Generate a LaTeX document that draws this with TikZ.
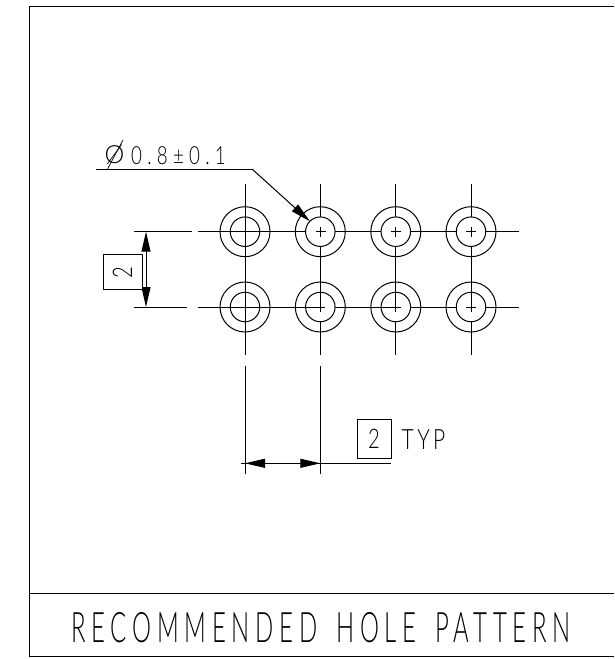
\documentclass[tikz,border=0pt]{standalone}
\usepackage{fontspec}
\newfontfamily\cadfont[LetterSpace=24]{Lato Light}
\newfontfamily\dimfont[LetterSpace=16]{Lato Light}
\newfontfamily\diafont[LetterSpace=28]{Lato Light}
\usetikzlibrary{arrows.meta}
\tikzset{
  cadline/.style={line width=1pt},
  hole/.style={circle,draw,line width=1pt,inner sep=0pt,outer sep=0pt},
  dimarrow/.style={line width=1pt,{Triangle[length=20pt,width=9pt]}-{Triangle[length=20pt,width=9pt]}},
  dimbox/.style={draw,line width=1pt,inner sep=0pt,outer sep=0pt},
  dimtext/.style={inner sep=0pt,xscale=0.75,transform shape}
}
\begin{document}
\begin{tikzpicture}[x=1pt,y=-1pt]
    \useasboundingbox (0,0) rectangle (614,659);

    % frame
    \coordinate (ftr) at (614,6.5);
    \coordinate (ftl) at (29.5,6.5);
    \coordinate (fbl) at (29.5,656.5);
    \coordinate (fbr) at (614,656.5);
    \coordinate (dl) at (29.5,593.5);
    \coordinate (dr) at (614,593.5);
    \draw[line width=1.1pt] (ftr) -- (ftl) -- (fbl) -- (fbr);
    \draw[line width=1.1pt] (dl) -- (dr);
    \node[inner sep=0pt,xscale=0.57,transform shape] (title) at (321,628) {\fontsize{42}{42}\cadfont RECOMMENDED\hspace{33pt}HOLE\hspace{33pt}PATTERN};

    % holes
    \foreach \i/\x in {1/245,2/320.3,3/395.8,4/471} {
        \node[hole,minimum size=50pt] (a\i) at (\x,231.7) {};
        \node[hole,minimum size=29.5pt] (ai\i) at (\x,231.7) {};
        \node[hole,minimum size=50pt] (b\i) at (\x,307) {};
        \node[hole,minimum size=29.5pt] (bi\i) at (\x,307) {};
    }

    % center lines
    \foreach \xa/\xb in {198/305.5,315.5/325.5,335/381,391/401,411/456.5,466/476,486/519}
        \draw[cadline] (\xa,231.7) -- (\xb,231.7);
    \foreach \xa/\xb in {198/325.3,335/401,411/456.5,466/476,486/519}
        \draw[cadline] (\xa,307) -- (\xb,307);
    \draw[cadline] (245,184) -- (245,355);
    \foreach \x in {320.3,395.8,471} {
        \draw[cadline] (\x,184) -- (\x,217);
        \draw[cadline] (\x,227) -- (\x,237);
        \draw[cadline] (\x,247) -- (\x,312);
        \draw[cadline] (\x,322) -- (\x,355);
    }

    % left dimension
    \draw[cadline] (134,231.7) -- (191.5,231.7);
    \draw[cadline] (134,307) -- (186.5,307);
    \coordinate (vt) at (146,231.7);
    \coordinate (vb) at (146,307);
    \draw[dimarrow] (vt) -- (vb);
    \node[dimbox,minimum width=39pt,minimum height=35pt,fill=white] (vbox) at (123,271.7) {};
    \node[inner sep=0pt,rotate=90,xscale=0.75,transform shape] (vtext) at (122.5,273) {\fontsize{27}{27}\dimfont 2};

    % bottom dimension
    \coordinate (hl) at (245,463.3);
    \coordinate (hr) at (320.3,463.3);
    \draw[cadline] (245,366) -- (245,474);
    \draw[cadline] (320.3,366) -- (320.3,474);
    \draw[cadline] (241,463.3) -- (391,463.3);
    \draw[dimarrow] (hl) -- (hr);
    \node[dimbox,minimum width=34pt,minimum height=39pt] (hbox) at (374,438.8) {};
    \node[dimtext] (htext) at (hbox) {\fontsize{27}{27}\dimfont 2};
    \node[dimtext] (typ) at (423.5,439.3) {\fontsize{28}{28}\dimfont TYP};

    % leader
    \coordinate (ls) at (96,169);
    \coordinate (lb) at (252,169);
    \draw[cadline] (ls) -- (lb);
    \draw[cadline,-{Triangle[length=20pt,width=9pt]}] (lb) -- (ai2.135);
    \node[inner sep=0pt] (phi) at (114.5,155.3) {\fontsize{25}{25}\dimfont Ø};
    \coordinate (sa) at (107,170);
    \coordinate (sb) at (123,140);
    \draw[line width=0.7pt] (sa) -- (sb);
    \node[dimtext] (dia) at (178.5,155.5) {\fontsize{25}{25}\diafont 0.8±0.1};
\end{tikzpicture}
\end{document}
